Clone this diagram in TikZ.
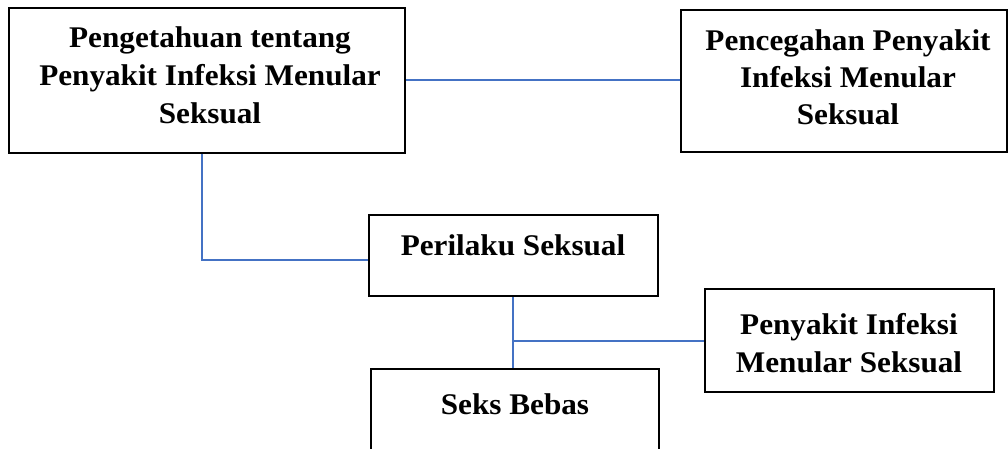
\documentclass[tikz,border=0pt]{standalone}
\usepackage{fontspec}
\setmainfont{Liberation Serif}
\definecolor{linkblue}{HTML}{4472C4}
\tikzset{
  boxnode/.style={draw=black, line width=2pt, rectangle, inner sep=0pt},
  txt/.style={font=\fontsize{30}{38}\selectfont\bfseries, align=center, anchor=base, inner sep=0pt, xscale=1.04},
  link/.style={draw=linkblue, line width=1.3pt}
}
\begin{document}
\begin{tikzpicture}[x=1pt,y=-1pt]
\useasboundingbox (0,0) rectangle (1008,448);
\clip (0,0) rectangle (1008,448);
% boxes
\node[boxnode, minimum width=396pt, minimum height=145pt] (A) at (207,80.5) {};
\node[boxnode, minimum width=326pt, minimum height=142pt] (B) at (844,81) {};
\node[boxnode, minimum width=289pt, minimum height=81pt] (C) at (513.5,255.5) {};
\node[boxnode, minimum width=289pt, minimum height=103pt] (E) at (849.5,340.5) {};
\node[boxnode, minimum width=288pt, minimum height=110pt] (D) at (515,424) {};
% texts
\node[txt] (tA1) at (210,47) {Pengetahuan tentang};
\node[txt] (tA2) at (210,85) {Penyakit Infeksi Menular};
\node[txt] (tA3) at (210,123) {Seksual};
\node[txt] (tB1) at (848,50) {Pencegahan Penyakit};
\node[txt] (tB2) at (848,87) {Infeksi Menular};
\node[txt] (tB3) at (848,124) {Seksual};
\node[txt] (tC) at (513,255) {Perilaku Seksual};
\node[txt] (tE1) at (849,334) {Penyakit Infeksi};
\node[txt] (tE2) at (849,372) {Menular Seksual};
\node[txt] (tD) at (515,414) {Seks Bebas};
% connectors
\coordinate (j) at (513,341);
\draw[link] (A.east |- 0,80) -- (B.west |- 0,80);
\draw[link] (202,0 |- A.south) -- (202,260) -- (C.west |- 0,260);
\draw[link] (j |- C.south) -- (j |- D.north);
\draw[link] (j) -- (E.west |- j);
\end{tikzpicture}
\end{document}
